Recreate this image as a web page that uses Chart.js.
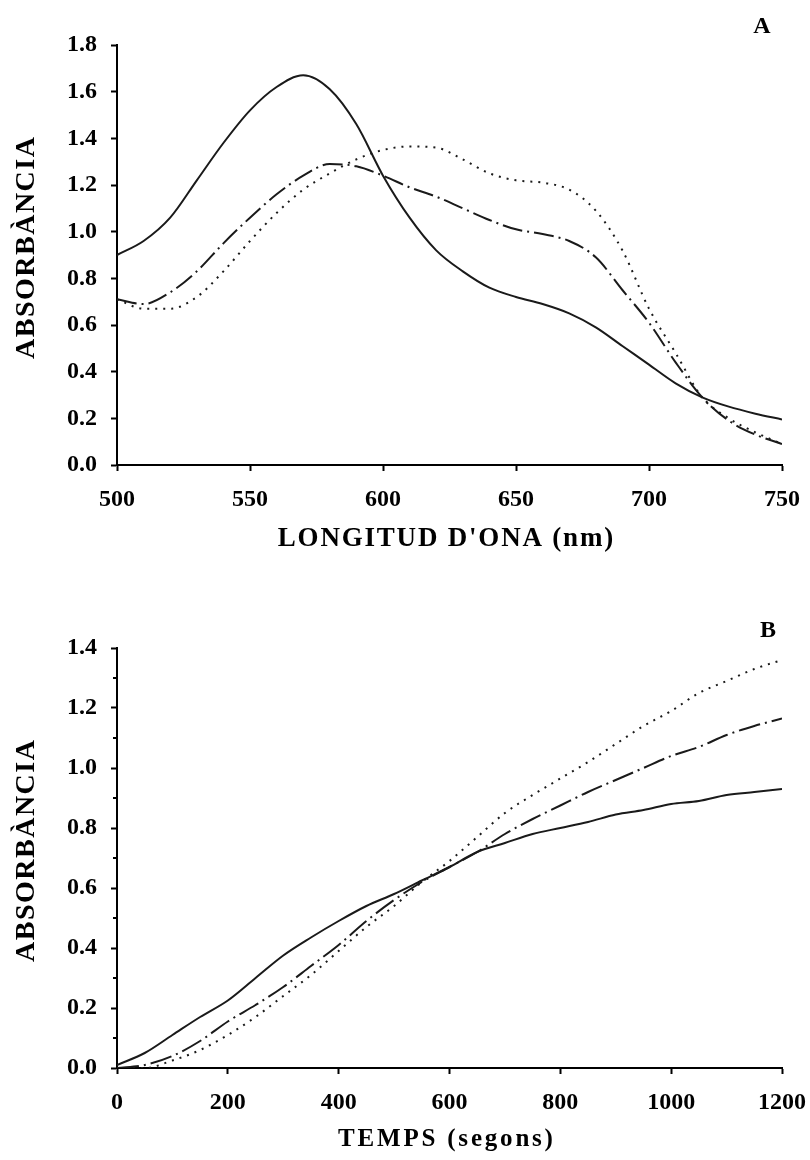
<!DOCTYPE html>
<html>
<head>
<meta charset="utf-8">
<script src="https://cdn.jsdelivr.net/npm/chart.js"></script>
<style>
  body { margin: 0; background: #fff; }
  #wrap { position: relative; width: 810px; height: 1160px; }
  canvas { position: absolute; left: 0; }
  #chart-a { top: 0; }
  #chart-b { top: 580px; }
</style>
</head>
<body>
<div id="wrap">
  <canvas id="chart-a" width="810" height="580"></canvas>
  <canvas id="chart-b" width="810" height="580"></canvas>
</div>
<script>
// Panel A: spectra
const wavelengths = [500, 510, 520, 530, 540, 550, 560, 570, 580, 590, 600, 610, 620, 630, 640, 650, 660, 670, 680, 690, 700, 710, 720, 730, 740, 750]
const spectrumSolid   = [0.90, 0.96, 1.06, 1.22, 1.38, 1.52, 1.62, 1.67, 1.61, 1.46, 1.24, 1.06, 0.92, 0.83, 0.76, 0.72, 0.69, 0.65, 0.59, 0.51, 0.43, 0.35, 0.29, 0.25, 0.22, 0.195]
const spectrumDashDot = [0.71, 0.69, 0.74, 0.83, 0.95, 1.06, 1.16, 1.24, 1.29, 1.28, 1.24, 1.19, 1.15, 1.10, 1.05, 1.01, 0.99, 0.96, 0.89, 0.75, 0.61, 0.44, 0.29, 0.19, 0.13, 0.09]
const spectrumDotted  = [0.71, 0.67, 0.67, 0.72, 0.83, 0.96, 1.08, 1.18, 1.25, 1.31, 1.35, 1.365, 1.36, 1.31, 1.25, 1.22, 1.21, 1.18, 1.09, 0.92, 0.67, 0.48, 0.29, 0.20, 0.14, 0.09]

// Panel B: kinetics
const times = [0, 50, 100, 150, 200, 250, 300, 350, 400, 450, 500, 550, 600, 650, 700, 750, 800, 850, 900, 950, 1000, 1050, 1100, 1150, 1200]
const kineticSolid   = [0.01, 0.05, 0.11, 0.17, 0.225, 0.30, 0.375, 0.435, 0.49, 0.54, 0.58, 0.625, 0.67, 0.72, 0.75, 0.78, 0.80, 0.82, 0.845, 0.86, 0.88, 0.89, 0.91, 0.92, 0.93]
const kineticDashDot = [0.00, 0.01, 0.04, 0.09, 0.155, 0.21, 0.27, 0.34, 0.41, 0.49, 0.56, 0.62, 0.67, 0.72, 0.78, 0.83, 0.875, 0.92, 0.96, 1.00, 1.04, 1.07, 1.11, 1.14, 1.165]
const kineticDotted  = [0.00, 0.00, 0.025, 0.06, 0.11, 0.17, 0.24, 0.31, 0.39, 0.47, 0.54, 0.62, 0.69, 0.77, 0.85, 0.91, 0.965, 1.02, 1.08, 1.14, 1.19, 1.25, 1.29, 1.33, 1.36]

const yMinorB = [0.1, 0.3, 0.5, 0.7, 0.9, 1.1, 1.3]

const FONT = '"Liberation Serif", "Times New Roman", serif'
const INK = '#000'
const LINE = '#1a1a1a'

function pts(xs, ys) {
    return xs.map((x, i) => ({ x: x, y: ys[i] }))
}

function series(xs, ys, dash) {
    return {
        data: pts(xs, ys),
        borderColor: LINE,
        borderWidth: 2,
        borderDash: dash,
        pointRadius: 0,
        fill: false,
        cubicInterpolationMode: 'monotone'
    }
}

function axis(min, max, step, fmt, fit) {
    return {
        type: 'linear', min: min, max: max,
        ticks: {
            stepSize: step, color: INK, padding: 14, maxRotation: 0, autoSkip: false,
            font: { family: FONT, weight: 'bold', size: 24 },
            callback: fmt
        },
        grid: { display: true, drawOnChartArea: false, drawTicks: true, tickLength: 6, tickColor: INK, tickWidth: 2 },
        border: { display: true, color: INK, width: 2 },
        afterFit: s => {
            // keep the plot area where the layout padding puts it
            s.paddingLeft = 0
            s.paddingRight = 0
            s.paddingTop = 0
            s.paddingBottom = 0
            fit(s)
        }
    }
}

// titles, panel letters and minor ticks
const decorations = {
    id: 'decorations',
    afterDraw(chart, args, o) {
        const { ctx, chartArea } = chart
        ctx.save()
        ctx.fillStyle = INK
        ctx.strokeStyle = INK
        ctx.textAlign = 'center'
        ctx.textBaseline = 'middle'

        ctx.font = 'bold ' + o.xSize + 'px ' + FONT
        ctx.letterSpacing = o.xSpacing + 'px'
        ctx.fillText(o.xTitle, (chartArea.left + chartArea.right) / 2 + o.xSpacing / 2 - 4, o.xTitleY)

        ctx.save()
        ctx.font = 'bold 28px ' + FONT
        ctx.letterSpacing = '1.5px'
        ctx.translate(27, o.yTitleY)
        ctx.rotate(-Math.PI / 2)
        ctx.fillText('ABSORBÀNCIA', 0.75, 0)
        ctx.restore()

        ctx.letterSpacing = '0px'
        ctx.font = 'bold 24px ' + FONT
        ctx.fillText(o.letter, o.letterX, o.letterY)

        if (o.minor) {
            const ys = chart.scales.y
            ctx.lineWidth = 2
            o.minor.forEach(v => {
                const py = Math.round(ys.getPixelForValue(v))
                ctx.beginPath()
                ctx.moveTo(ys.right - 4, py)
                ctx.lineTo(ys.right, py)
                ctx.stroke()
            })
        }
        ctx.restore()
    }
}

const DOTTED = [2, 6]
const DASHDOT = [20, 5, 2, 5]

const chartA = new Chart(document.querySelector('#chart-a'), {
    type: 'line',
    data: {
        datasets: [
            series(wavelengths, spectrumSolid, []),
            series(wavelengths, spectrumDashDot, DASHDOT),
            series(wavelengths, spectrumDotted, DOTTED)
        ]
    },
    options: {
        responsive: false,
        animation: false,
        events: [],
        layout: { padding: { top: 45, right: 28, left: 0, bottom: 0 } },
        plugins: {
            legend: { display: false },
            tooltip: { enabled: false },
            decorations: {
                xTitle: "LONGITUD D'ONA (nm)", xSize: 27, xSpacing: 1.8, xTitleY: 539,
                yTitleY: 248, letter: 'A', letterX: 762, letterY: 27
            }
        },
        scales: {
            x: axis(500, 750, 50, v => String(v), s => { s.height = 115 }),
            y: axis(0, 1.8, 0.2, v => v.toFixed(1), s => { s.width = 117 })
        }
    },
    plugins: [decorations]
})

const chartB = new Chart(document.querySelector('#chart-b'), {
    type: 'line',
    data: {
        datasets: [
            series(times, kineticSolid, []),
            series(times, kineticDashDot, [22, 5, 2, 5]),
            series(times, kineticDotted, DOTTED)
        ]
    },
    options: {
        responsive: false,
        animation: false,
        events: [],
        layout: { padding: { top: 68, right: 28, left: 0, bottom: 0 } },
        plugins: {
            legend: { display: false },
            tooltip: { enabled: false },
            decorations: {
                xTitle: 'TEMPS (segons)', xSize: 25, xSpacing: 2.8, xTitleY: 560,
                yTitleY: 271, letter: 'B', letterX: 768, letterY: 51, minor: yMinorB
            }
        },
        scales: {
            x: axis(0, 1200, 200, v => String(v), s => { s.height = 92 }),
            y: axis(0, 1.4, 0.2, v => v.toFixed(1), s => { s.width = 117 })
        }
    },
    plugins: [decorations]
})
</script>
</body>
</html>
